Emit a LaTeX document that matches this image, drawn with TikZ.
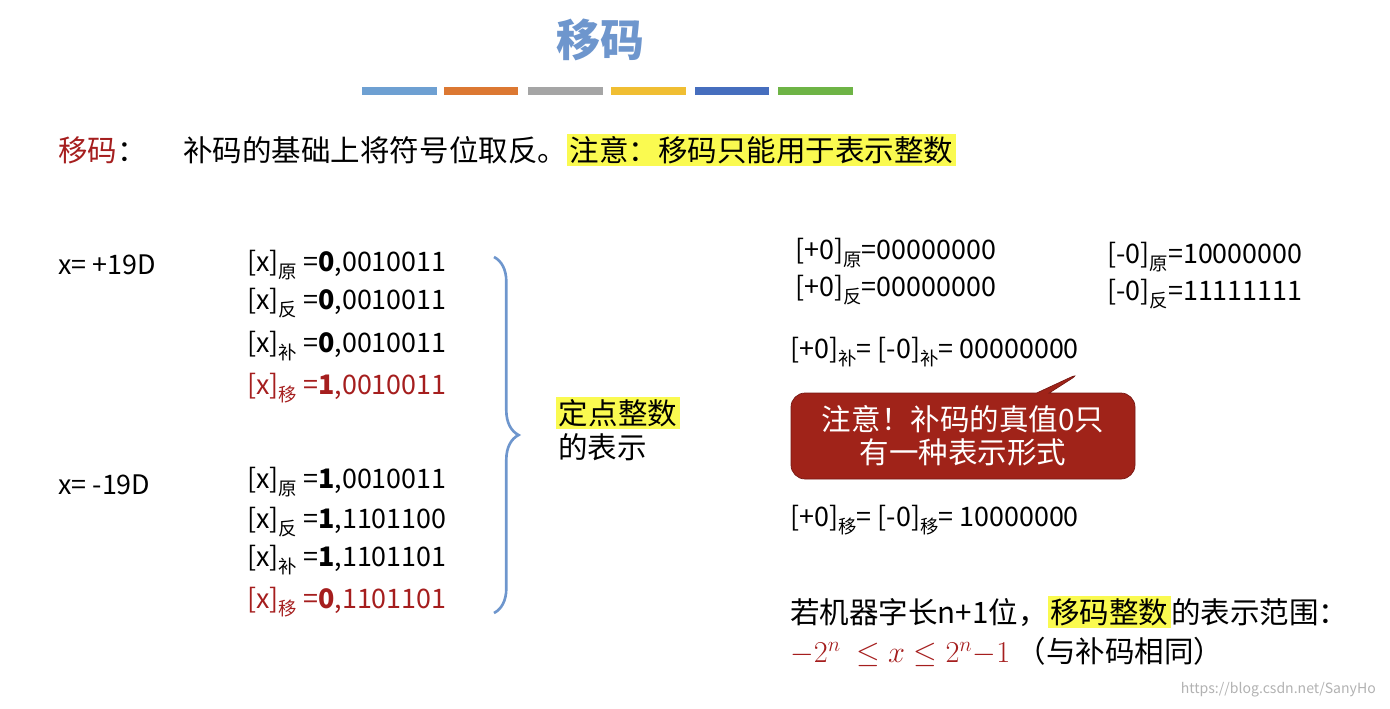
\documentclass[tikz,border=0pt]{standalone}
\usepackage{fontspec}
\setmainfont{Noto Sans CJK SC}
\usetikzlibrary{decorations.pathreplacing,shapes.callouts}
\definecolor{titleblue}{RGB}{110,150,205}
\definecolor{darkred}{RGB}{165,30,30}
\definecolor{calloutred}{RGB}{160,35,25}
\definecolor{hl}{RGB}{250,250,80}
\newcommand{\sbk}[1]{\raisebox{-0.5ex}{\fontsize{10.5}{10}\selectfont #1}}
\newcommand{\hlt}[1]{{\setlength{\fboxsep}{1.5pt}\colorbox{hl}{#1}}}
\newcommand{\cjkbig}{\fontsize{16.8}{19}\selectfont}
\tikzset{
  txt/.style={anchor=west,inner sep=0pt,font=\fontsize{15.3}{18}\selectfont},
  bar/.style={line width=4pt},
}
\begin{document}
\begin{tikzpicture}[x=0.02cm,y=-0.02cm]
  \useasboundingbox (0,0) rectangle (1390,708);
  \node[font=\fontsize{25}{28}\selectfont\bfseries,text=titleblue] (title) at (600,40) {移码};
  % colour bars
  \draw[bar,color={rgb,255:red,110;green,160;blue,210}] (362,91) -- (437,91);
  \draw[bar,color={rgb,255:red,220;green,120;blue,50}] (444,91) -- (518,91);
  \draw[bar,color={rgb,255:red,165;green,165;blue,165}] (528,91) -- (603,91);
  \draw[bar,color={rgb,255:red,240;green,190;blue,50}] (611,91) -- (686,91);
  \draw[bar,color={rgb,255:red,70;green,110;blue,190}] (695,91) -- (769,91);
  \draw[bar,color={rgb,255:red,110;green,180;blue,70}] (778,91) -- (853,91);
  % definition
  \node[txt,font=\cjkbig,text=darkred] (defkey) at (58,150) {移码\textcolor{black}{：}};
  \node[txt,font=\cjkbig] (def) at (183,150) {补码的基础上将符号位取反。\hlt{注意：移码只能用于表示整数}};
  % positive
  \node[txt] (xp) at (58,265) {x= +19D};
  \node[txt] (p1) at (247,265) {[x]\sbk{原} =\textbf{0},0010011};
  \node[txt] (p2) at (247,303) {[x]\sbk{反} =\textbf{0},0010011};
  \node[txt] (p3) at (247,346) {[x]\sbk{补} =\textbf{0},0010011};
  \node[txt,text=darkred] (p4) at (247,388) {[x]\sbk{移} =\textbf{1},0010011};
  % negative
  \node[txt] (xn) at (58,485) {x= -19D};
  \node[txt] (n1) at (247,482) {[x]\sbk{原} =\textbf{1},0010011};
  \node[txt] (n2) at (247,522) {[x]\sbk{反} =\textbf{1},1101100};
  \node[txt] (n3) at (247,560) {[x]\sbk{补} =\textbf{1},1101101};
  \node[txt,text=darkred] (n4) at (247,602) {[x]\sbk{移} =\textbf{0},1101101};
  \draw[titleblue,line width=1.5pt,decorate,decoration={brace,amplitude=14pt}]
    (494,257) -- (494,613);
  \node[txt,font=\cjkbig] (fix1) at (556,413) {\hlt{定点整数}};
  \node[txt,font=\cjkbig] (fix2) at (558,447) {的表示};
  % zero
  \node[txt] (z1) at (795,253) {[+0]\sbk{原}=00000000};
  \node[txt] (z2) at (795,290) {[+0]\sbk{反}=00000000};
  \node[txt] (z3) at (1107,257) {[-0]\sbk{原}=10000000};
  \node[txt] (z4) at (1107,294) {[-0]\sbk{反}=11111111};
  \node[txt] (z5) at (790,352) {[+0]\sbk{补}= [-0]\sbk{补}= 00000000};
  \node[rectangle callout,rounded corners=8pt,fill=calloutred,draw={rgb,255:red,120;green,25;blue,20},
    text width=6.6cm,minimum height=1.72cm,align=center,text=white,
    font=\cjkbig,inner sep=4pt,
    callout absolute pointer={(1082,372)}] (note) at (963,436)
    {注意！补码的真值0只\\有一种表示形式};
  \node[txt] (z6) at (790,520) {[+0]\sbk{移}= [-0]\sbk{移}= 10000000};
  % range
  \node[txt,font=\cjkbig] (rng) at (790,612) {若机器字长n+1位，\hlt{移码整数}的表示范围：};
  \node[txt,font=\cjkbig] (rng2) at (790,652) {\textcolor{darkred}{$-2^{n}\ \leq x \leq 2^{n}{-}1$}\ （与补码相同）};
  \node[anchor=east,text=gray!60,font=\fontsize{8}{9}\selectfont] (wm) at (1382,690) {https://blog.csdn.net/SanyHo};
\end{tikzpicture}
\end{document}
